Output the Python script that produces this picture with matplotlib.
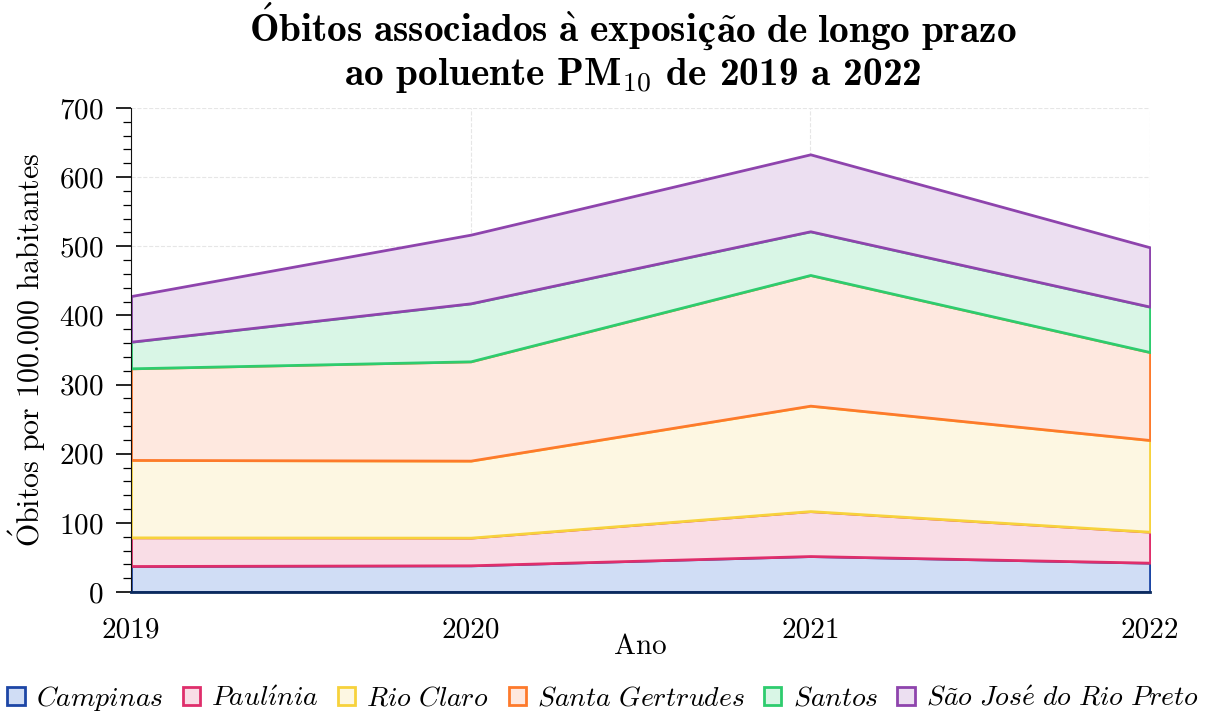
import matplotlib
matplotlib.use("Agg")
import matplotlib.pyplot as plt
from matplotlib.patches import Patch
from matplotlib.offsetbox import TextArea, HPacker, VPacker, AnchoredOffsetbox
import numpy as np

years = [2019, 2020, 2021, 2022]
cidades = ["Campinas", "Paulínia", "Rio Claro", "Santa Gertrudes", "Santos", "São José do Rio Preto"]
campinas = [37.6, 38.6, 52.0, 42.4]
paulinia = [41.4, 40.0, 65.0, 44.8]
rio_claro = [112.0, 111.4, 152.5, 132.6]
santa_gertrudes = [132.5, 143.6, 189.0, 127.2]
santos = [38.5, 83.9, 63.2, 65.7]
sao_jose = [66.0, 99.3, 111.3, 85.8]
series = [campinas, paulinia, rio_claro, santa_gertrudes, santos, sao_jose]

# italic (Computer Modern) legend labels written with mathtext accents
legend_labels = {
    "Campinas": r"$\mathit{Campinas}$",
    "Paulínia": r"$\mathit{Paul\acute{\imath}nia}$",
    "Rio Claro": r"$\mathit{Rio\ Claro}$",
    "Santa Gertrudes": r"$\mathit{Santa\ Gertrudes}$",
    "Santos": r"$\mathit{Santos}$",
    "São José do Rio Preto": r"$\mathit{S\tilde{a}o\ Jos\acute{e}\ do\ Rio\ Preto}$",
}

edge_colors = ["#1d46a6", "#df2e6b", "#f7d23c", "#fd7a2c", "#2ecc6e", "#8e44ad"]
fill_colors = ["#d0ddf5", "#f9dde6", "#fdf7e2", "#fee8df", "#d9f6e6", "#ecdff1"]

plt.rcParams["font.family"] = ["cmr10", "STIXGeneral"]
plt.rcParams["mathtext.fontset"] = "cm"
plt.rcParams["axes.formatter.use_mathtext"] = True

fig = plt.figure(figsize=(12.06, 7.13), dpi=100)
ax = fig.add_axes([131/1206, 1-592/713, (1150-131)/1206, (592-108)/713])

base = np.zeros(len(years))
for vals, fc, ec in zip(series, fill_colors, edge_colors):
    top = base + np.array(vals)
    ax.fill_between(years, base, top, facecolor=fc, edgecolor=ec, linewidth=2, zorder=2)
    base = top

ax.set_xlim(2019, 2022)
ax.set_ylim(0, 700)
ax.set_xticks(years)
ax.set_xticklabels([str(y) for y in years])
ax.set_yticks(range(0, 701, 100))
ax.set_yticks(range(0, 701, 20), minor=True)
ax.grid(True, which="major", linestyle="--", color="#e6e6e6", linewidth=0.8, zorder=0)
ax.set_axisbelow(True)
for s in ["top", "right"]:
    ax.spines[s].set_visible(False)
ax.spines["left"].set_color("#111111")
ax.spines["bottom"].set_color("#0b2a5e")
ax.spines["bottom"].set_linewidth(2)
ax.spines["bottom"].set_zorder(3)
ax.tick_params(axis="y", which="major", length=11, width=1.2, labelsize=21, pad=9)
ax.tick_params(axis="y", which="minor", length=6, width=0.9)
ax.tick_params(axis="x", which="major", length=0, labelsize=21, pad=18)

ax.set_ylabel(r"$\mathrm{\acute{O}}$bitos por 100.000 habitantes", fontsize=21.5, labelpad=8)
ax.set_xlabel("Ano", fontsize=21)
ax.xaxis.set_label_coords(0.5, -0.087)

# Title (two lines, bold Computer Modern)
tsize = 28.3
tprops = dict(fontsize=tsize, fontweight="bold", family=["cmb10", "STIXGeneral"])
line1 = HPacker(children=[
    TextArea(r"$\mathbf{\acute{O}bitos\ associados\ \grave{a}\ exposi}$", textprops=tprops),
    TextArea("ç", textprops=tprops),
    TextArea(r"$\mathbf{\tilde{a}o\ de\ longo\ prazo}$", textprops=tprops),
], align="baseline", pad=0, sep=0)
line2 = TextArea(r"ao poluente PM$_{\mathbf{10}}$ de 2019 a 2022", textprops=tprops)
title_box = VPacker(children=[line1, line2], align="center", pad=0, sep=3)
anch = AnchoredOffsetbox(loc="upper center", child=title_box, pad=0, borderpad=0, frameon=False,
                         bbox_to_anchor=(633/1206, 1), bbox_transform=fig.transFigure)
fig.add_artist(anch)

handles = [Patch(facecolor=fc, edgecolor=ec, linewidth=2) for fc, ec in zip(fill_colors, edge_colors)]
fig.legend(handles, [legend_labels[c] for c in cidades], loc="lower center", bbox_to_anchor=(0.5, -0.035),
           ncol=6, frameon=False, fontsize=20,
           handlelength=0.62, handleheight=0.62, handletextpad=0.4, columnspacing=0.7)

fig.savefig("out.png", dpi=100)
